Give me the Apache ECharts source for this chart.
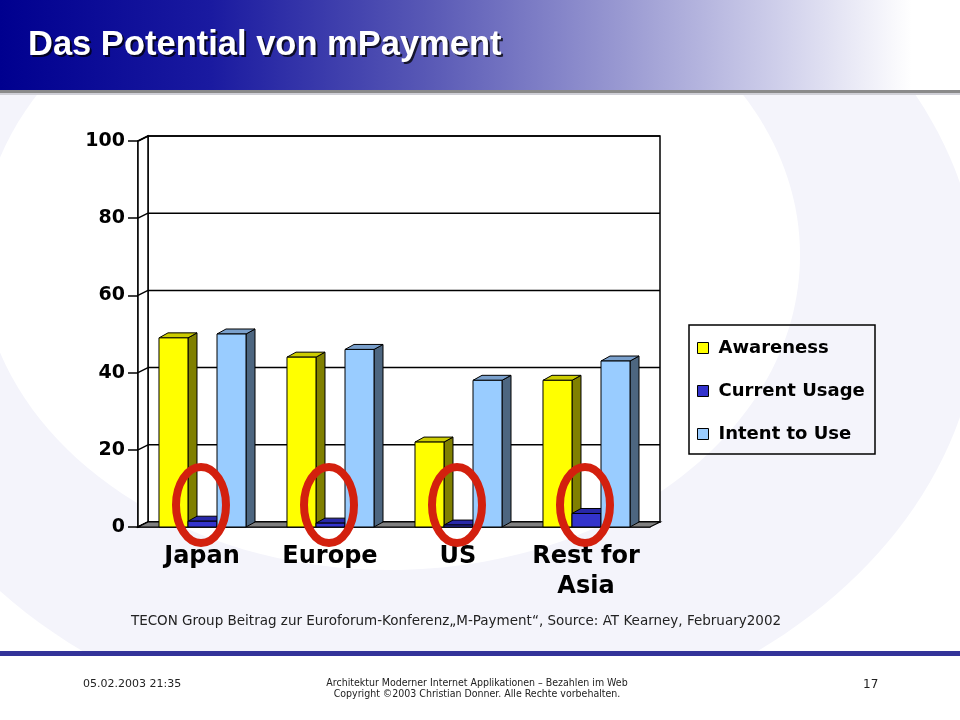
<!DOCTYPE html>
<html><head><meta charset="utf-8">
<script src="https://cdn.jsdelivr.net/npm/echarts@6/dist/echarts.min.js"></script>
<style>html,body{margin:0;padding:0;background:#fff}#c{width:960px;height:720px}</style>
</head><body><div id="c"></div>
<script>
// ---- data ----
const categories = ['Japan', 'Europe', 'US', 'Rest for\nAsia'];
const seriesNames = ['Awareness', 'Current Usage', 'Intent to Use'];
const awareness = [49, 44, 22, 38];
const currentUsage = [1.5, 1, 0.5, 3.5];
const intentToUse = [50, 46, 38, 43];
const yTicks = [0, 20, 40, 60, 80, 100];
const circledCategories = [0, 1, 2, 3];

// ---- styles ----
const faces = [
  { front: '#ffff00', top: '#cccc00', side: '#808000' },
  { front: '#3333cc', top: '#2828a8', side: '#1c1c80' },
  { front: '#99ccff', top: '#7aa0cc', side: '#4d6680' }
];
const DX = 10, DY = -5;
const FONT = 'DejaVu Sans, Verdana, sans-serif';

function barRender(si) {
  return function (params, api) {
    const idx = api.value(0), v = api.value(1);
    const base = api.coord([idx, 0]);
    const tp = api.coord([idx, v]);
    const band = api.size([1, 0])[0];
    const w = band * 0.2266;
    const x0 = base[0] - band * 0.336 + si * w;
    const y0 = base[1], y1 = tp[1];
    const dx = 9, dy = -5;
    const f = faces[si];
    const st = { stroke: '#000', lineWidth: 1 };
    return {
      type: 'group', children: [
        { type: 'polygon', shape: { points: [[x0 + w, y1], [x0 + w + dx, y1 + dy], [x0 + w + dx, y0 + dy], [x0 + w, y0]] }, style: Object.assign({ fill: f.side }, st) },
        { type: 'polygon', shape: { points: [[x0, y1], [x0 + dx, y1 + dy], [x0 + w + dx, y1 + dy], [x0 + w, y1]] }, style: Object.assign({ fill: f.top }, st) },
        { type: 'rect', shape: { x: x0, y: y1, width: w, height: y0 - y1 }, style: Object.assign({ fill: f.front }, st) }
      ]
    };
  };
}

function frameRender(params, api) {
  const cs = params.coordSys;
  const L = cs.x, R = cs.x + cs.width, T = cs.y, B = cs.y + cs.height;
  const st = { stroke: '#000', lineWidth: 1.5 };
  const ch = [];
  ch.push({ type: 'rect', shape: { x: L + DX, y: T + DY, width: R - L, height: B - T }, style: Object.assign({ fill: '#fff' }, st) });
  ch.push({ type: 'polygon', shape: { points: [[L, B], [L + DX, B + DY], [L + DX, T + DY], [L, T]] }, style: Object.assign({ fill: '#fff' }, st) });
  yTicks.forEach(function (v) {
    const y = api.coord([0, v])[1];
    ch.push({ type: 'line', shape: { x1: L + DX, y1: y + DY, x2: R + DX, y2: y + DY }, style: st });
    ch.push({ type: 'line', shape: { x1: L, y1: y, x2: L + DX, y2: y + DY }, style: st });
  });
  ch.push({ type: 'polygon', shape: { points: [[L, B], [R, B], [R + DX, B + DY], [L + DX, B + DY]] }, style: { fill: '#808080', stroke: '#000', lineWidth: 1.2 } });
  return { type: 'group', children: ch };
}

function ringRender(params, api) {
  const idx = api.value(0);
  const p = api.coord([idx, 0]);
  return { type: 'ellipse', shape: { cx: p[0] - 1, cy: p[1] - 22, rx: 25, ry: 38 }, style: { fill: 'none', stroke: '#d3200e', lineWidth: 8 } };
}

const seriesData = [awareness, currentUsage, intentToUse];

const chart = echarts.init(document.getElementById('c'));
chart.setOption({
  animation: false,
  backgroundColor: '#ffffff',
  grid: { left: 138, top: 141, right: 310, bottom: 193, containLabel: false },
  xAxis: {
    type: 'category', data: categories,
    axisLine: { lineStyle: { color: '#000', width: 1.5 } },
    axisTick: { length: 8, lineStyle: { color: '#000', width: 1.5 } },
    axisLabel: { color: '#000', fontFamily: FONT, fontWeight: 'bold', fontSize: 24, margin: 15, lineHeight: 30, interval: 0 }
  },
  yAxis: {
    type: 'value', min: 0, max: 100, interval: 20,
    axisLine: { show: true, lineStyle: { color: '#000', width: 1.5 } },
    axisTick: { show: true, length: 10, lineStyle: { color: '#000', width: 1.5 } },
    splitLine: { show: false },
    axisLabel: { color: '#000', fontFamily: FONT, fontWeight: 'bold', fontSize: 19, margin: 13 }
  },
  legend: {
    left: 697, top: 339, orient: 'vertical', padding: 0,
    itemWidth: 11, itemHeight: 11, itemGap: 25, icon: 'rect',
    itemStyle: { borderColor: '#000', borderWidth: 1 },
    textStyle: { fontFamily: FONT, fontWeight: 'bold', fontSize: 18, lineHeight: 18, color: '#000', padding: [0, 0, 0, 5] },
    data: seriesNames.map(function (n, i) { return { name: n, itemStyle: { color: faces[i].front } }; })
  },
  graphic: [
    // slide background
    { type: 'ellipse', shape: { cx: 420, cy: 300, rx: 560, ry: 440 }, style: { fill: '#f4f4fb' }, z: -20, silent: true },
    { type: 'ellipse', shape: { cx: 390, cy: 255, rx: 410, ry: 315 }, style: { fill: '#ffffff' }, z: -19, silent: true },
    { type: 'rect', shape: { x: 0, y: 656, width: 960, height: 64 }, style: { fill: '#ffffff' }, z: -18, silent: true },
    // title bar
    { type: 'rect', shape: { x: 0, y: 0, width: 960, height: 90 }, z: -5, silent: true,
      style: { fill: new echarts.graphic.LinearGradient(0, 0, 1, 0, [
        { offset: 0, color: '#00008f' }, { offset: 0.22, color: '#1a1aa0' }, { offset: 0.45, color: '#5a5ab6' },
        { offset: 0.65, color: '#9a9ad2' }, { offset: 0.82, color: '#d2d2ec' }, { offset: 0.95, color: '#ffffff' }]) } },
    { type: 'rect', shape: { x: 0, y: 90, width: 960, height: 3 }, style: { fill: '#8a8a8a' }, z: -5, silent: true },
    { type: 'rect', shape: { x: 0, y: 93, width: 960, height: 2 }, style: { fill: '#cfcfd6' }, z: -5, silent: true },
    { type: 'text', x: 30, y: 47, z: 5, silent: true, style: { text: 'Das Potential von mPayment', font: 'bold 34.5px "Liberation Sans", Arial, sans-serif', fill: 'rgba(0,0,0,0.75)', textVerticalAlign: 'middle' } },
    { type: 'text', x: 28, y: 45, z: 6, silent: true, style: { text: 'Das Potential von mPayment', font: 'bold 34.5px "Liberation Sans", Arial, sans-serif', fill: '#ffffff', textVerticalAlign: 'middle' } },
    // legend box
    { type: 'rect', shape: { x: 689, y: 325, width: 186, height: 129 }, style: { fill: 'none', stroke: '#000', lineWidth: 1.5 }, z: 5, silent: true },
    // source
    { type: 'text', x: 456, y: 621, z: 5, silent: true, style: { text: 'TECON Group Beitrag zur Euroforum-Konferenz\u201eM-Payment\u201c, Source: AT Kearney, February2002', font: '13.5px "DejaVu Sans", Verdana, sans-serif', fill: '#222', textAlign: 'center', textVerticalAlign: 'middle' } },
    // footer
    { type: 'rect', shape: { x: 0, y: 651, width: 960, height: 5 }, style: { fill: '#333399' }, z: 5, silent: true },
    { type: 'text', x: 83, y: 684, z: 5, silent: true, style: { text: '05.02.2003 21:35', font: '11px "DejaVu Sans", Verdana, sans-serif', fill: '#222', textVerticalAlign: 'middle' } },
    { type: 'text', x: 477, y: 683, z: 5, silent: true, style: { text: 'Architektur Moderner Internet Applikationen \u2013 Bezahlen im Web', font: '10.5px "DejaVu Sans Condensed", "Liberation Sans Narrow", sans-serif', fill: '#222', textAlign: 'center', textVerticalAlign: 'middle' } },
    { type: 'text', x: 477, y: 694, z: 5, silent: true, style: { text: 'Copyright \u00a92003 Christian Donner. Alle Rechte vorbehalten.', font: '10.5px "DejaVu Sans Condensed", "Liberation Sans Narrow", sans-serif', fill: '#222', textAlign: 'center', textVerticalAlign: 'middle' } },
    { type: 'text', x: 863, y: 685, z: 5, silent: true, style: { text: '17', font: '12px "DejaVu Sans", Verdana, sans-serif', fill: '#222', textVerticalAlign: 'middle' } }
  ],
  series: [
    { type: 'custom', name: '_frame', z: 1, silent: true, renderItem: frameRender, data: [[0, 0]], encode: { x: 0, y: 1 } }
  ].concat(seriesNames.map(function (n, i) {
    return {
      type: 'custom', name: n, z: 2 + i, renderItem: barRender(i),
      itemStyle: { color: faces[i].front },
      data: seriesData[i].map(function (v, k) { return [k, v]; }),
      encode: { x: 0, y: 1 }
    };
  })).concat([
    { type: 'custom', name: '_rings', z: 10, silent: true, renderItem: ringRender,
      data: circledCategories.map(function (k) { return [k, 0]; }), encode: { x: 0, y: 1 } }
  ])
});
</script>
</body></html>
